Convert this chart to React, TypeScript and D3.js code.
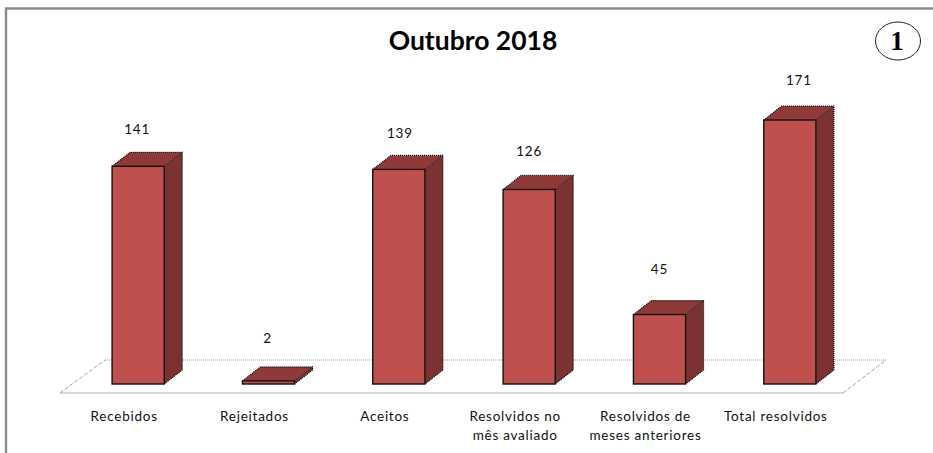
import React from "react";
import * as d3 from "d3";

const categories = [["Recebidos"], ["Rejeitados"], ["Aceitos"], ["Resolvidos no", "mês avaliado"], ["Resolvidos de", "meses anteriores"], ["Total resolvidos"]];
const values = [141, 2, 139, 126, 45, 171];
const labelBaselines = [134, 343, 138, 156, 274, 85];
const labelShifts = [0, 0, 2, 1, 1, 10];
const chartTitle = "Outubro 2018";
const badge = "1";

const W = 933, H = 453;
const dx = 18, dy = -14;
const baseY = 384;
const x = d3.scaleBand<number>().domain(d3.range(values.length)).range([73, 855]).paddingInner(0.6).paddingOuter(0.3);
const y = d3.scaleLinear().domain([0, 171]).range([baseY, 120]);
const font = "Lato, sans-serif";
const line = d3.line();

export default function App() {
  return (
    <svg width={W} height={H} style={{ position: "absolute", left: 0, top: 0, background: "#fff" }}>
      <path d="M6,453V8.5H933" fill="none" stroke="#8c8c8c" strokeWidth={2.4} />
      <text x={473} y={50} textAnchor="middle" fontFamily="Lato, sans-serif" fontWeight={700} fontSize={26.5} fill="#000">{chartTitle}</text>
      <ellipse cx={898} cy={41} rx={22.5} ry={19} fill="#fff" stroke="#222" strokeWidth={1} />
      <text x={897} y={50} textAnchor="middle" fontFamily="'Liberation Serif', serif" fontWeight={700} fontSize={27} fill="#000">{badge}</text>

      <path d={line([[60, 393], [843, 393]]) ?? ""} stroke="#b0b0b0" strokeWidth={1.2} fill="none" />
      <path d={line([[105, 360], [886, 360]]) ?? ""} stroke="#9a9a9a" strokeWidth={1} strokeDasharray="1 1" fill="none" />
      <path d={line([[60, 393], [105, 360]]) ?? ""} stroke="#a0a0a0" strokeWidth={1} strokeDasharray="4 2" fill="none" />
      <path d={line([[843, 393], [886, 360]]) ?? ""} stroke="#a0a0a0" strokeWidth={1} strokeDasharray="4 2" fill="none" />

      {values.map((v, i) => {
        const x0 = x(i)!, x1 = x0 + x.bandwidth(), t = y(v);
        const cx = x0 + x.bandwidth() / 2;
        const top = line([[x0, t], [x0 + dx, t + dy], [x1 + dx, t + dy], [x1, t]]) + "Z";
        const side = line([[x1, t], [x1 + dx, t + dy], [x1 + dx, baseY + dy], [x1, baseY]]) + "Z";
        return (
          <g key={i}>
            <path d={side} fill="#7b3230" stroke="none" />
            <path d={top} fill="#8f3a38" stroke="none" />
            <path d={line([[x0, t], [x0 + dx, t + dy], [x1 + dx, t + dy], [x1 + dx, baseY + dy], [x1, baseY]]) ?? ""} fill="none" stroke="#000" strokeWidth={1.2} strokeDasharray="1 1" />
            <rect x={x0} y={t} width={x.bandwidth()} height={baseY - t} fill="#c0504d" stroke="#111" strokeWidth={1.4} />
            <line x1={x1} y1={t} x2={x1 + dx} y2={t + dy} stroke="#222" strokeWidth={0.8} />
            <text x={cx - 1 + labelShifts[i]} y={labelBaselines[i]} textAnchor="middle" fontFamily={font} fontSize={13.5} letterSpacing={0.8} fill="#111">{v}</text>
            <text textAnchor="middle" fontFamily={font} fontSize={13.5} letterSpacing={0.75} fill="#111">
              {categories[i].map((c, j) => (
                <tspan key={j} x={cx - 14} y={421 + j * 19}>{c}</tspan>
              ))}
            </text>
          </g>
        );
      })}
    </svg>
  );
}
